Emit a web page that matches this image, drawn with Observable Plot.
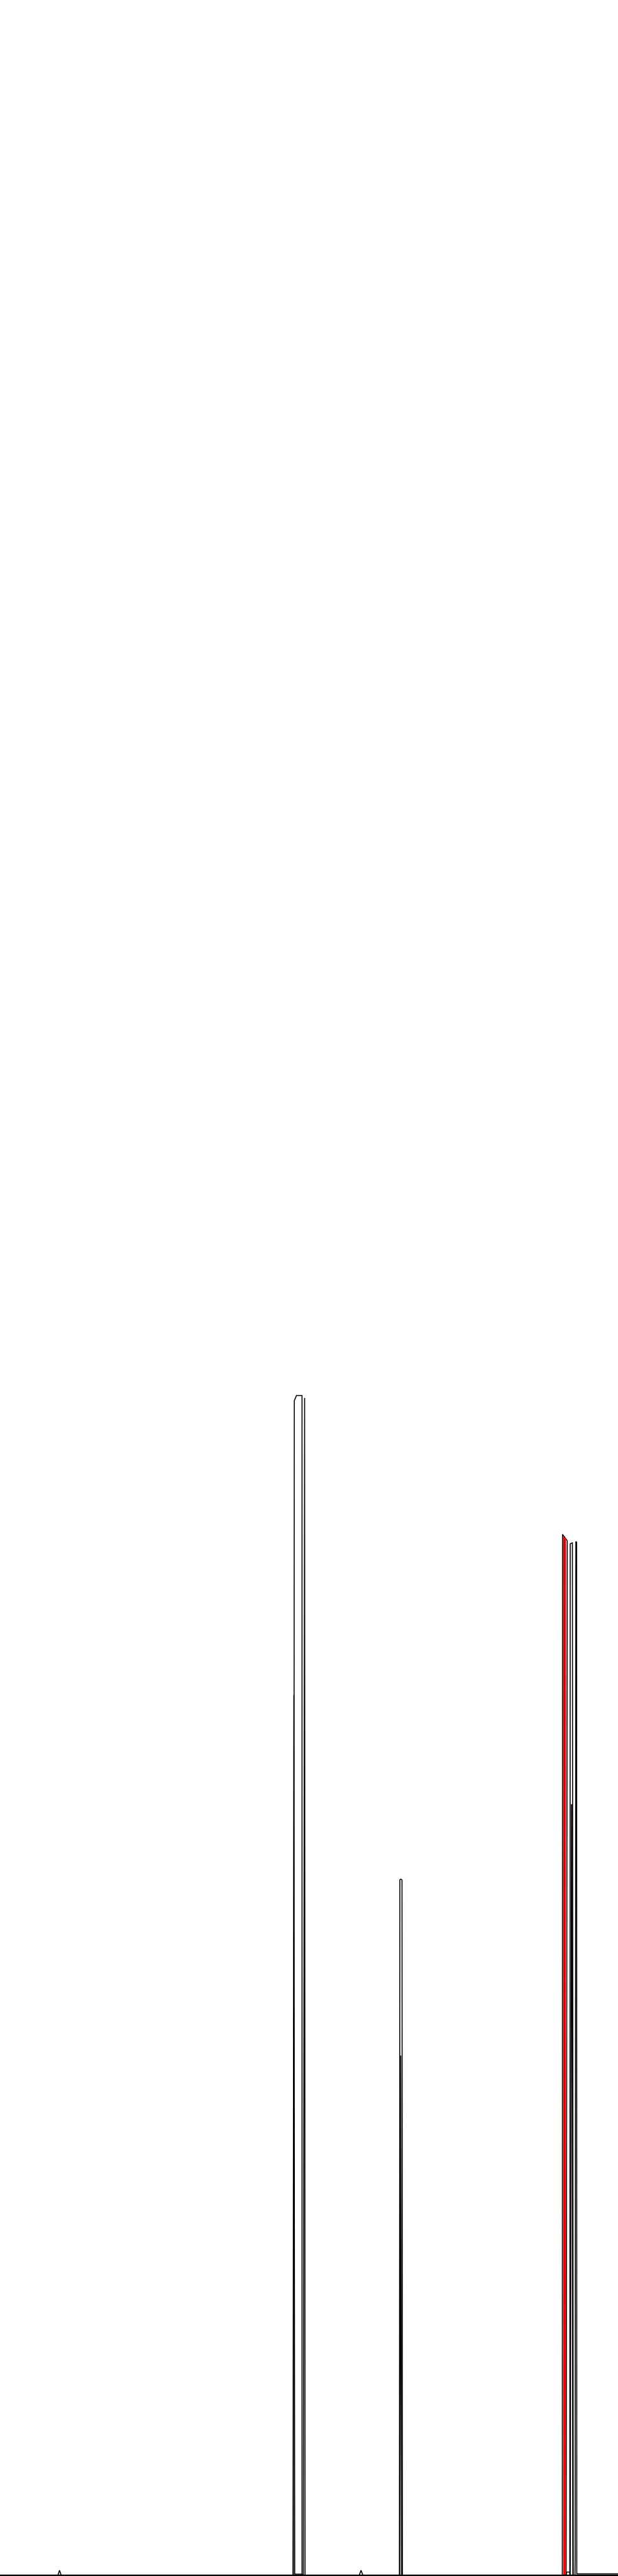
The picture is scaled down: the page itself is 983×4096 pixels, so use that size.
<!DOCTYPE html>
<html>
<head>
<meta charset="utf-8">
<script src="https://cdn.jsdelivr.net/npm/d3@7"></script>
<script src="https://cdn.jsdelivr.net/npm/@observablehq/plot@0.6"></script>
<style>
  html, body { margin: 0; padding: 0; background: #ffffff; }
  #chart svg { display: block; }
</style>
</head>
<body>
<div id="chart"></div>
<script>
// ---- data (x: position 0–1000, y: signal 0–1000) ----
const seriesNames  = ["s1","s2","s3","s4","s5","s6","s7","s8","s9","s10","s11"];
const seriesColors = ["#000","#000","#000","#000","#000","#000","#000","#ff0000","#000","#000","#000"];

const s1X = [0, 93.1, 95.8, 98.6, 580.6, 583.7, 586.8, 1000];
const s1Y = [0, 0, 2.0, 0, 0, 2.0, 0, 0];

const s2X = [0, 474.3, 475.7, 479.2, 488.2, 488.2, 1000];
const s2Y = [0, 0, 456.2, 458.2, 458.2, 0, 0];

const s3X = [0, 473.6, 475.0, 476.4, 488.2, 490.3, 492.4, 493.1, 1000];
const s3Y = [0, 0, 342.0, 0.5, 0.5, 0, 457.3, 0, 0];

const s4X = [0, 645.8, 646.5, 647.9, 650.0, 650.7, 1000];
const s4Y = [0, 0, 270.1, 270.4, 270.1, 0, 0];

const s5X = [0, 646.5, 647.9, 649.3, 1000];
const s5Y = [0, 0, 201.9, 0, 0];

const s6X = [0, 909.4, 909.7, 917.4, 915.6, 1000];
const s6Y = [0, 0, 404.3, 401.8, 0, 0];

const s7X = [0, 912.5, 912.8, 913.2, 1000];
const s7Y = [0, 0, 403.5, 0, 0];

const s8X = [0, 911.8, 911.3, 914.4, 913.8, 1000];
const s8Y = [0, 0, 403.0, 402.6, 0, 0];

const s9X = [0, 921.5, 922.2, 925.7, 927.1, 1000];
const s9Y = [0, 0, 400.6, 401.0, 0, 0];

const s10X = [0, 915.6, 916.3, 921.5, 922.2, 924.3, 925.0, 926.4, 1000];
const s10Y = [0, 0, 1.3, 1.3, 0, 299.3, 299.3, 0, 0];

const s11X = [0, 929.9, 930.2, 931.3, 932.6, 932.8, 1000];
const s11Y = [0, 0, 7.5, 401.5, 401.2, 0.6, 0.6];

const allX = [s1X, s2X, s3X, s4X, s5X, s6X, s7X, s8X, s9X, s10X, s11X];
const allY = [s1Y, s2Y, s3Y, s4Y, s5Y, s6Y, s7Y, s8Y, s9Y, s10Y, s11Y];

// ---- build table ----
const rows = [];
seriesNames.forEach((name, i) => {
  allX[i].forEach((x, j) => rows.push({series: name, x, y: allY[i][j]}));
});
const blackRows = rows.filter(d => d.series !== "s8");
const redRows = rows.filter(d => d.series === "s8");

const S = 0.682;
const chart = Plot.plot({
  width: 983,
  height: 4096,
  marginTop: 0,
  marginRight: 0,
  marginLeft: 0,
  marginBottom: 1.4,
  x: {domain: [0, 1000], axis: null},
  y: {domain: [0, 1000], axis: null},
  style: {background: "#ffffff"},
  marks: [
    Plot.line(blackRows, {x: "x", y: "y", z: "series", stroke: "#000000", strokeWidth: 1.6, strokeLinejoin: "miter", strokeMiterlimit: 2}),
    Plot.line(redRows, {x: "x", y: "y", z: "series", stroke: seriesColors[7], strokeWidth: 2.1, strokeLinejoin: "miter", strokeMiterlimit: 2}),
    Plot.ruleY([0], {stroke: "#000000", strokeWidth: 4 * S})
  ]
});
document.getElementById("chart").appendChild(chart);
</script>
</body>
</html>
